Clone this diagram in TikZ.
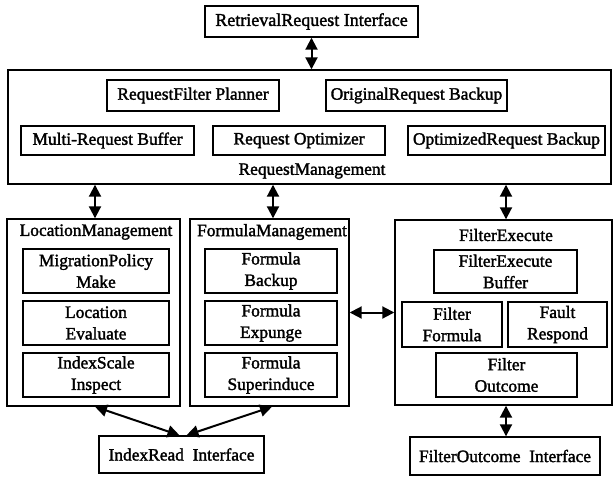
\documentclass[tikz,border=0pt]{standalone}
\usepackage{fontspec}
\setmainfont{Liberation Serif}
\newfontfamily\thickserif{Liberation Serif}[FakeBold=1.8]
\usetikzlibrary{arrows.meta}
\begin{document}
\begin{tikzpicture}[x=1pt,y=-1pt,
  every node/.style={font=\thickserif\fontsize{17.4}{21.5}\selectfont},
  box/.style={draw,line width=1.4pt,rectangle,inner sep=0pt,align=center},
  lbl/.style={inner sep=0pt,anchor=center},
  conn/.style={line width=2pt,{Triangle[length=12pt,width=12pt]}-{Triangle[length=12pt,width=12pt]}}
]
\useasboundingbox (0,0) rectangle (613,477);
% top interface
\node[box,minimum width=213pt,minimum height=31pt,font=\thickserif\fontsize{18}{21.5}\selectfont] (rri) at (311.5,21.5) {RetrievalRequest Interface};
% request management
\node[box,minimum width=603pt,minimum height=114pt] (rm) at (309.5,127) {};
\node[lbl] (rmlabel) at (312,171) {RequestManagement};
\node[box,minimum width=172pt,minimum height=31pt] (rfp) at (193,95.5) {RequestFilter Planner};
\node[box,minimum width=181pt,minimum height=31pt] (orb) at (416.5,95.5) {OriginalRequest Backup};
\node[box,minimum width=173pt,minimum height=29pt] (mrb) at (107.5,140.5) {Multi-Request Buffer};
\node[box,minimum width=172pt,minimum height=29pt] (ro) at (299,140.5) {Request Optimizer};
\node[box,minimum width=197pt,minimum height=29pt] (opb) at (506.5,140.5) {OptimizedRequest Backup};
% location management
\node[box,minimum width=173pt,minimum height=187pt] (lm) at (93.5,312.5) {};
\node[lbl] (lmlabel) at (96,232) {LocationManagement};
\node[box,minimum width=146pt,minimum height=44pt] (mpm) at (96,271) {MigrationPolicy\\Make};
\node[box,minimum width=146pt,minimum height=44pt] (le) at (96,323) {Location\\Evaluate};
\node[box,minimum width=146pt,minimum height=44pt] (isi) at (96,375) {IndexScale\\Inspect};
% formula management
\node[box,minimum width=159pt,minimum height=187pt] (fm) at (269.5,312.5) {};
\node[lbl] (fmlabel) at (272,232) {FormulaManagement};
\node[box,minimum width=132pt,minimum height=44pt] (fb) at (271,271) {Formula\\Backup};
\node[box,minimum width=132pt,minimum height=44pt] (fx) at (271,323) {Formula\\Expunge};
\node[box,minimum width=132pt,minimum height=44pt] (fs) at (271,375) {Formula\\Superinduce};
% filter execute
\node[box,minimum width=217pt,minimum height=185pt] (fe) at (503.5,312.5) {};
\node[lbl] (felabel) at (506,235) {FilterExecute};
\node[box,minimum width=143pt,minimum height=43pt] (feb) at (505.5,271.5) {FilterExecute\\Buffer};
\node[box,minimum width=100pt,minimum height=45pt] (ff) at (452,324.5) {Filter\\Formula};
\node[box,minimum width=99pt,minimum height=45pt] (fr) at (557.5,324.5) {Fault\\Respond};
\node[box,minimum width=141pt,minimum height=44pt] (fo) at (506.5,375) {Filter\\Outcome};
% bottom interfaces
\node[box,minimum width=165pt,minimum height=37pt] (iri) at (181.5,454.5) {IndexRead\ \ Interface};
\node[box,minimum width=190pt,minimum height=38pt] (foi) at (505,456) {FilterOutcome\ \ Interface};
% connectors
\draw[conn] (rri.south) -- (rri.south |- rm.north);
\draw[conn] ([xshift=1.5pt]lm.north |- rm.south) -- ([xshift=1.5pt]lm.north);
\draw[conn] ([xshift=3.5pt]fm.north |- rm.south) -- ([xshift=3.5pt]fm.north);
\draw[conn] ([xshift=2.5pt]fe.north |- rm.south) -- ([xshift=2.5pt]fe.north);
\draw[conn] (fm.east) -- (fe.west);
\draw[conn] ([xshift=1.5pt]lm.south) -- ([xshift=-2pt]iri.north);
\draw[conn] ([xshift=2.5pt]fm.south) -- ([xshift=5pt]iri.north);
\draw[conn] ([xshift=2.5pt]fe.south) -- ([xshift=2.5pt]fe.south |- foi.north);
\end{tikzpicture}
\end{document}
